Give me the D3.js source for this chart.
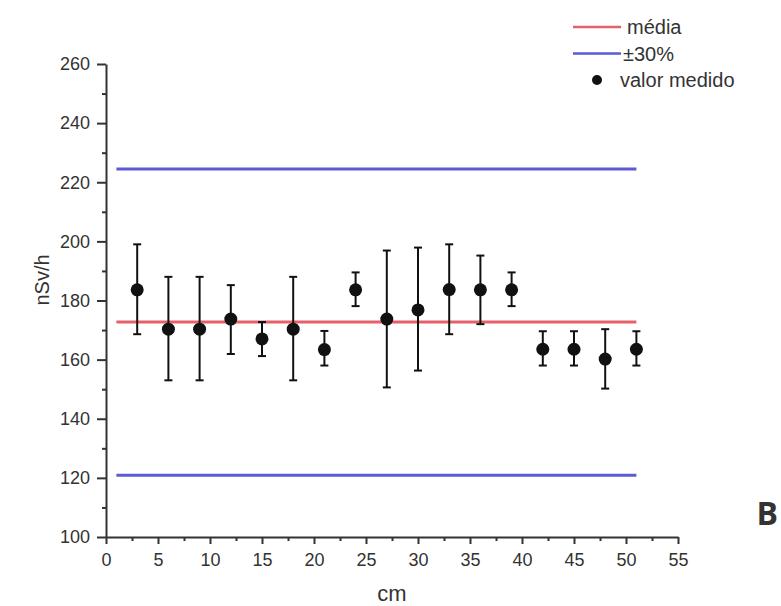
<!DOCTYPE html>
<html>
<head>
<meta charset="utf-8">
<script src="https://cdn.jsdelivr.net/npm/d3@7"></script>
<style>
  body { margin: 0; background: #fff; }
  text { font-family: "Liberation Sans", Arial, sans-serif; fill: #333; }
</style>
</head>
<body>
<div id="chart"></div>
<script>
// positions in cm
const positions = [3, 6, 9, 12, 15, 18, 21, 24, 27, 30, 33, 36, 39, 42, 45, 48, 51];
// measured dose rate (nSv/h)
const measured = [183.6, 170.3, 170.3, 173.7, 167, 170.3, 163.4, 183.6, 173.7, 176.8, 183.7, 183.6, 183.6, 163.5, 163.5, 160.2, 163.5];
const errLow  = [168.6, 153, 153, 161.9, 161.2, 153, 158, 178.1, 150.6, 156.3, 168.6, 172, 178.1, 158, 158, 150.2, 158];
const errHigh = [199, 188, 188, 185.2, 172.7, 188, 169.7, 189.5, 196.9, 197.9, 199, 195.2, 189.5, 169.6, 169.6, 170.3, 169.6];
const mean = 172.7;
const band = [120.9, 224.5];
const lineRange = [1, 51];
const xTicks = [0, 5, 10, 15, 20, 25, 30, 35, 40, 45, 50, 55];
const yTicks = [100, 120, 140, 160, 180, 200, 220, 240, 260];
const legendItems = ["média", "±30%", "valor medido"];

(function() {
  const W = 781, H = 606;
  const margin = { top: 64, right: 103, bottom: 69, left: 106 };
  const width = W - margin.left - margin.right;
  const height = H - margin.top - margin.bottom;

  const svg = d3.select('#chart')
    .append('svg')
      .attr('width', W)
      .attr('height', H);

  const g = svg.append('g')
    .attr('transform', `translate(${margin.left}, ${margin.top})`);

  const x = d3.scaleLinear().domain([0, 55]).range([0, width]);
  const y = d3.scaleLinear().domain([100, 260]).range([height, 0]);

  const red = "#e5606a";
  const blue = "#5b5bd6";
  const ink = "#111";

  // minor ticks
  g.append("g")
    .attr("class", "minor")
    .attr("transform", `translate(0, ${height})`)
    .call(d3.axisBottom(x).tickValues(d3.range(2.5, 55, 5)).tickSize(4).tickFormat(""));
  g.append("g")
    .attr("class", "minor")
    .call(d3.axisLeft(y).tickValues(d3.range(110, 260, 20)).tickSize(4).tickFormat(""));

  // major axes
  g.append("g")
    .attr("class", "axis")
    .attr("transform", `translate(0, ${height})`)
    .call(d3.axisBottom(x).tickValues(xTicks).tickSize(7).tickPadding(9).tickSizeOuter(0));
  g.append("g")
    .attr("class", "axis")
    .call(d3.axisLeft(y).tickValues(yTicks).tickSize(9).tickPadding(7).tickSizeOuter(0));

  g.selectAll(".axis path, .axis line, .minor path, .minor line")
    .attr("stroke", "#333")
    .attr("stroke-width", 2);
  g.selectAll(".minor path").remove();
  g.selectAll(".axis text")
    .style("font-size", "18px")
    .style("font-family", "'Liberation Sans', Arial, sans-serif")
    .attr("fill", "#333");

  // mean and ±30% lines
  g.append("line")
    .attr("x1", x(lineRange[0])).attr("x2", x(lineRange[1]))
    .attr("y1", y(mean)).attr("y2", y(mean))
    .attr("stroke", red).attr("stroke-width", 3);

  g.selectAll(".band")
    .data(band)
    .enter().append("line")
      .attr("class", "band")
      .attr("x1", x(lineRange[0])).attr("x2", x(lineRange[1]))
      .attr("y1", d => y(d)).attr("y2", d => y(d))
      .attr("stroke", blue).attr("stroke-width", 3);

  // error bars
  const pts = positions.map((p, i) => ({ x: p, v: measured[i], lo: errLow[i], hi: errHigh[i] }));

  const eb = g.selectAll(".err")
    .data(pts)
    .enter().append("g")
      .attr("class", "err")
      .attr("stroke", ink)
      .attr("stroke-width", 2);

  eb.append("line")
    .attr("x1", d => x(d.x)).attr("x2", d => x(d.x))
    .attr("y1", d => y(d.lo)).attr("y2", d => y(d.hi));
  eb.append("line")
    .attr("x1", d => x(d.x) - 4).attr("x2", d => x(d.x) + 4)
    .attr("y1", d => y(d.hi)).attr("y2", d => y(d.hi));
  eb.append("line")
    .attr("x1", d => x(d.x) - 4).attr("x2", d => x(d.x) + 4)
    .attr("y1", d => y(d.lo)).attr("y2", d => y(d.lo));

  g.selectAll(".dot")
    .data(pts)
    .enter().append("circle")
      .attr("class", "dot")
      .attr("cx", d => x(d.x))
      .attr("cy", d => y(d.v))
      .attr("r", 6.5)
      .attr("fill", ink);

  // axis titles
  svg.append("text")
    .attr("x", margin.left + width / 2)
    .attr("y", 601)
    .attr("text-anchor", "middle")
    .style("font-size", "22px")
    .text("cm");

  svg.append("text")
    .attr("transform", `translate(49, 280) rotate(-90)`)
    .attr("text-anchor", "middle")
    .style("font-size", "20px")
    .text("nSv/h");

  // legend
  const legend = svg.selectAll(".legend")
    .data(legendItems)
    .enter().append("g")
      .attr("class", "legend")
      .attr("transform", (d, i) => `translate(573, ${27 + i * 26.5})`);

  legend.filter((d, i) => i < 2).append("line")
    .attr("x1", 0).attr("x2", 48)
    .attr("y1", 0).attr("y2", 0)
    .attr("stroke", (d, i) => i === 0 ? red : blue)
    .attr("stroke-width", 2.5);

  legend.filter((d, i) => i === 2).append("circle")
    .attr("cx", 24).attr("cy", 0).attr("r", 5)
    .attr("fill", ink);

  legend.append("text")
    .attr("x", (d, i) => i === 0 ? 54 : (i === 1 ? 50 : 47))
    .attr("y", 0)
    .attr("dy", "0.35em")
    .style("font-size", "20px")
    .text(d => d);

  // panel label
  svg.append("text")
    .attr("x", 778)
    .attr("y", 525)
    .attr("text-anchor", "end")
    .style("font-family", "'Open Sans', sans-serif")
    .style("font-weight", "bold")
    .style("font-size", "32px")
    .attr("fill", "#111")
    .text("B");
})();
</script>
</body>
</html>
